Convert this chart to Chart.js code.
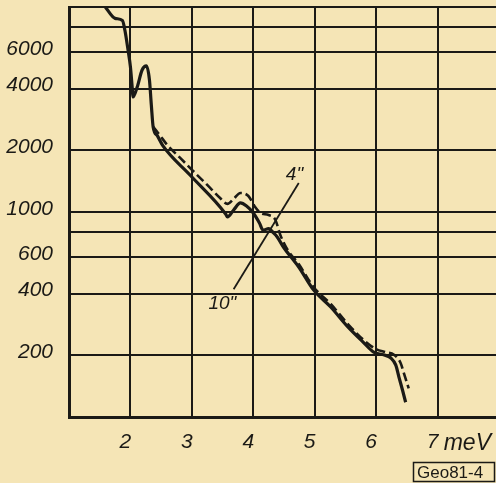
<!DOCTYPE html>
<html>
<head>
<meta charset="utf-8">
<script src="https://cdn.jsdelivr.net/npm/chart.js@4/dist/chart.umd.min.js"></script>
<style>
  html, body { margin: 0; padding: 0; background: #f5e5b6; overflow: hidden; }
  #wrap { width: 496px; height: 483px; overflow: hidden; position: relative; }
  #c { display: block; }
</style>
</head>
<body>
<div id="wrap"><canvas id="c" width="499" height="483"></canvas></div>
<script>
// ---- data (energy in meV, intensity on log scale) ----
const solidX = [1.59, 1.75, 1.87, 1.91, 1.96, 2.0, 2.03, 2.04, 2.11, 2.19, 2.26, 2.31, 2.34, 2.37, 2.44, 2.53, 2.97, 3.55, 3.58, 3.68, 3.79, 3.89, 4.0, 4.1, 4.16, 4.25, 4.33, 4.39, 4.49, 4.74, 4.98, 5.26, 5.54, 5.8, 5.96, 6.12, 6.24, 6.32, 6.37, 6.43, 6.48];
const solidY = [10000, 8800, 8600, 7700, 6200, 5100, 4000, 3640, 4070, 4930, 5160, 4400, 3330, 2600, 2350, 2100, 1515, 978, 946, 1023, 1107, 1070, 989, 884, 815, 830, 790, 755, 675, 539, 417, 344, 275, 230, 207, 201, 194, 179, 157, 135, 118];
const dashedX = [2.37, 2.45, 2.6, 2.81, 3.02, 3.25, 3.46, 3.58, 3.68, 3.79, 3.92, 4.03, 4.12, 4.25, 4.36, 4.44, 4.56, 4.74, 4.98, 5.26, 5.54, 5.8, 5.99, 6.16, 6.29, 6.4, 6.45, 6.53];
const dashedY = [2600, 2430, 2123, 1835, 1585, 1355, 1170, 1095, 1158, 1238, 1197, 1058, 989, 967, 914, 773, 653, 557, 431, 356, 284, 237, 215, 207, 201, 183, 164, 138];
const yGrid = [100, 200, 400, 600, 800, 1000, 2000, 4000, 6000, 8000, 10000];
const yLabels = [200, 400, 600, 1000, 2000, 4000, 6000];
const xLabels = [2, 3, 4, 5, 6, 7];
const seriesNames = ['10"', '4"'];
const unitLabel = 'meV';
const stampText = 'Geo81-4';
// leader line joining the two curve labels
const leaderX = [4.74, 3.68];
const leaderY = [1384, 420];

const ink = '#1b1a16';
const font = 'italic 21px "Liberation Sans", Arial, sans-serif';

const toPts = (xs, ys) => xs.map((x, i) => ({ x: x, y: ys[i] }));

const annot = {
  id: 'annot',
  afterDraw(chart) {
    const ctx = chart.ctx;
    const xs = chart.scales.x, ys = chart.scales.y;
    ctx.save();
    ctx.strokeStyle = ink;
    ctx.fillStyle = ink;
    ctx.lineWidth = 1.8;
    ctx.beginPath();
    ctx.moveTo(xs.getPixelForValue(leaderX[0]), ys.getPixelForValue(leaderY[0]));
    ctx.lineTo(xs.getPixelForValue(leaderX[1]), ys.getPixelForValue(leaderY[1]));
    ctx.stroke();
    ctx.font = 'italic 19px "Liberation Sans", Arial, sans-serif';
    ctx.textBaseline = 'alphabetic';
    ctx.textAlign = 'left';
    ctx.fillText(seriesNames[1], xs.getPixelForValue(4.53), ys.getPixelForValue(1440));
    ctx.fillText(seriesNames[0], xs.getPixelForValue(3.27), ys.getPixelForValue(335));
    // unit after the "7" tick
    ctx.font = 'italic 23px "Liberation Sans", Arial, sans-serif';
    ctx.fillText(unitLabel, xs.getPixelForValue(7.1), chart.chartArea.bottom + 33);
    // stamp box
    ctx.font = '17px "Liberation Sans", Arial, sans-serif';
    ctx.lineWidth = 1.5;
    ctx.strokeRect(413.5, 462.5, 81, 19);
    ctx.fillText(stampText, 417, 478);
    ctx.restore();
  }
};

new Chart(document.getElementById('c'), {
  type: 'line',
  data: {
    datasets: [
      {
        label: seriesNames[0],
        data: toPts(solidX, solidY),
        borderColor: ink,
        borderWidth: 3.2,
        pointRadius: 0,
        cubicInterpolationMode: 'monotone',
        fill: false
      },
      {
        label: seriesNames[1],
        data: toPts(dashedX, dashedY),
        borderColor: ink,
        borderWidth: 2.6,
        borderDash: [9, 4],
        pointRadius: 0,
        cubicInterpolationMode: 'monotone',
        fill: false
      }
    ]
  },
  options: {
    responsive: false,
    animation: false,
    events: [],
    layout: { padding: { top: 7, right: 0, left: 0, bottom: 0 } },
    plugins: { legend: { display: false }, tooltip: { enabled: false } },
    scales: {
      x: {
        type: 'linear',
        min: 1,
        max: 8,
        afterBuildTicks(scale) {
          scale.ticks = [1, 2, 3, 4, 5, 6, 7, 8].map(v => ({ value: v }));
        },
        afterFit(scale) {
          scale.height = 66;
          scale.paddingLeft = 0; scale.paddingRight = 0;
          scale.paddingTop = 0; scale.paddingBottom = 0;
        },
        grid: { color: ink, lineWidth: 2, drawTicks: false },
        border: { color: ink, width: 3 },
        ticks: {
          color: ink,
          font: { family: '"Liberation Sans", Arial, sans-serif', size: 21, style: 'italic' },
          padding: 13,
          labelOffset: -5,
          maxRotation: 0,
          autoSkip: false,
          callback: v => (xLabels.includes(v) ? String(v) : '')
        }
      },
      y: {
        type: 'logarithmic',
        min: 100,
        max: 10000,
        afterBuildTicks(scale) {
          scale.ticks = yGrid.map(v => ({ value: v }));
        },
        afterFit(scale) {
          scale.width = 69;
          scale.paddingLeft = 0; scale.paddingRight = 0;
          scale.paddingTop = 0; scale.paddingBottom = 0;
        },
        grid: { color: ink, lineWidth: 2, drawTicks: false },
        border: { color: ink, width: 3 },
        ticks: {
          color: ink,
          font: { family: '"Liberation Sans", Arial, sans-serif', size: 21, style: 'italic' },
          padding: 16,
          labelOffset: -3,
          autoSkip: false,
          callback: v => (yLabels.includes(v) ? String(v) : '')
        }
      }
    }
  },
  plugins: [annot]
});
</script>
</body>
</html>
